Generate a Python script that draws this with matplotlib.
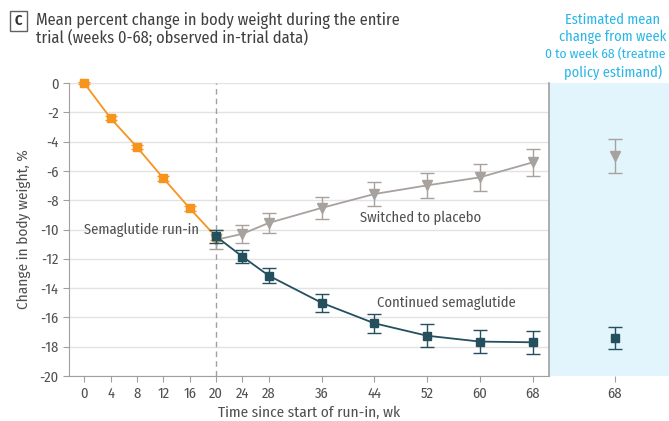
import matplotlib.pyplot as plt
from matplotlib.patches import Rectangle

plt.rcParams['font.family'] = ['Fira Sans Condensed', 'DejaVu Sans']
plt.rcParams['axes.unicode_minus'] = False

# run-in period (everyone on semaglutide)
runin_wk = [0, 4, 8, 12, 16, 20]
runin_val = [0, -2.4, -4.37, -6.5, -8.55, -10.5]
runin_err = [0.05, 0.15, 0.15, 0.17, 0.18, 0.2]

# randomized period
weeks = [20, 24, 28, 36, 44, 52, 60, 68]
sema_val = [-10.47, -11.85, -13.15, -15.0, -16.4, -17.25, -17.65, -17.7]
sema_err = [0.42, 0.43, 0.52, 0.6, 0.66, 0.77, 0.76, 0.8]
plac_val = [-10.7, -10.3, -9.55, -8.53, -7.58, -6.99, -6.44, -5.42]
plac_err = [0.65, 0.6, 0.66, 0.72, 0.8, 0.84, 0.9, 0.9]

# treatment policy estimand at week 68
est_sema, est_sema_err = -17.38, 0.75
est_plac, est_plac_err = -4.98, 1.13

xticks = [0, 4, 8, 12, 16, 20, 24, 28, 36, 44, 52, 60, 68]
yticks = list(range(-20, 1, 2))

orange = '#f7941d'
dark = '#24505e'
grey = '#a8a29e'
txt = '#505050'
axcol = '#a0a0a0'
blue_txt = '#29b6e8'

W, H = 669, 421
fig = plt.figure(figsize=(W / 100, H / 100), dpi=100)
ax = fig.add_axes([69 / W, (H - 376) / H, (549 - 69) / W, (376 - 83) / H])
ax2 = fig.add_axes([549 / W, (H - 376) / H, 130 / W, (376 - 83) / H])

ax.set_xlim(-2.3, 70.5)
ax.set_ylim(-20, 0)
for y in yticks:
    ax.axhline(y, color='#e2e2e2', lw=1, zorder=0)
ax.axvline(20, color='#a0a0a0', lw=1, ls=(0, (4, 3)), zorder=1)

ax.errorbar(runin_wk, runin_val, yerr=runin_err, color=orange, marker='s', ms=6,
            lw=1.3, capsize=4, elinewidth=1, zorder=3, clip_on=False)
ax.errorbar(weeks, plac_val, yerr=plac_err, color=grey, marker='v', ms=7,
            lw=1.3, capsize=5, elinewidth=1, zorder=3)
ax.errorbar(weeks, sema_val, yerr=sema_err, color=dark, marker='s', ms=6,
            lw=1.3, capsize=5, elinewidth=1, zorder=4)

ax.text(0, -10.0, 'Semaglutide run-in', fontsize=10.5, color=txt, va='center', ha='left')
ax.text(51, -9.2, 'Switched to placebo', fontsize=10.5, color=txt, va='center', ha='center')
ax.text(55, -15.0, 'Continued semaglutide', fontsize=10.5, color=txt, va='center', ha='center')

ax.set_xticks(xticks)
ax.set_yticks(yticks)
ax.tick_params(colors=axcol, labelcolor=txt, labelsize=10.5, length=4)
for s in ['top', 'right']:
    ax.spines[s].set_visible(False)
ax.spines['left'].set_color(axcol)
ax.spines['bottom'].set_color(axcol)
ax.set_xlabel('Time since start of run-in, wk', fontsize=11, color=txt, labelpad=4)
ax.set_ylabel('Change in body weight, %', fontsize=11, color=txt, labelpad=6)

# right panel
ax2.set_facecolor('#e2f4fc')
ax2.set_xlim(60, 60 + 8 / 0.55 * 130 / 120)
ax2.set_ylim(-20, 0)
ax2.errorbar([68], [est_plac], yerr=[est_plac_err], color=grey, marker='v', ms=7,
             capsize=5, elinewidth=1)
ax2.errorbar([68], [est_sema], yerr=[est_sema_err], color=dark, marker='s', ms=6,
             capsize=5, elinewidth=1)
ax2.set_xticks([68])
ax2.set_yticks([])
ax2.tick_params(colors=axcol, labelcolor=txt, labelsize=10.5, length=4)
for s in ['top', 'right', 'bottom']:
    ax2.spines[s].set_visible(False)
ax2.spines['left'].set_color(axcol)
ax2.spines['left'].set_linewidth(1.2)

# heading of the right panel, cut at the figure edge as in the source
head = ['Estimated mean', 'change from week', '0 to week 68 (treatme', 'policy estimand)']
for i, line in enumerate(head):
    yy = (H - 20 - i * 17.3) / H
    if i == 2:
        fig.text(545 / W, yy, line, ha='left', va='center', fontsize=9.7, color=blue_txt)
    else:
        fig.text(613 / W, yy, line, ha='center', va='center', fontsize=10.3, color=blue_txt)

# panel letter and title
fig.patches.append(Rectangle((10 / W, (H - 31) / H), 17 / W, 20 / H, transform=fig.transFigure,
                             fill=False, edgecolor='#606060', lw=1))
fig.text(18.5 / W, (H - 21) / H, 'C', ha='center', va='center', fontsize=10.5,
         fontweight='bold', color='#333333')
fig.text(36 / W, (H - 12) / H,
         'Mean percent change in body weight during the entire\ntrial (weeks 0-68; observed in-trial data)',
         ha='left', va='top', fontsize=11.8, color='#404040', linespacing=1.05)

fig.savefig('out.png', dpi=100)
